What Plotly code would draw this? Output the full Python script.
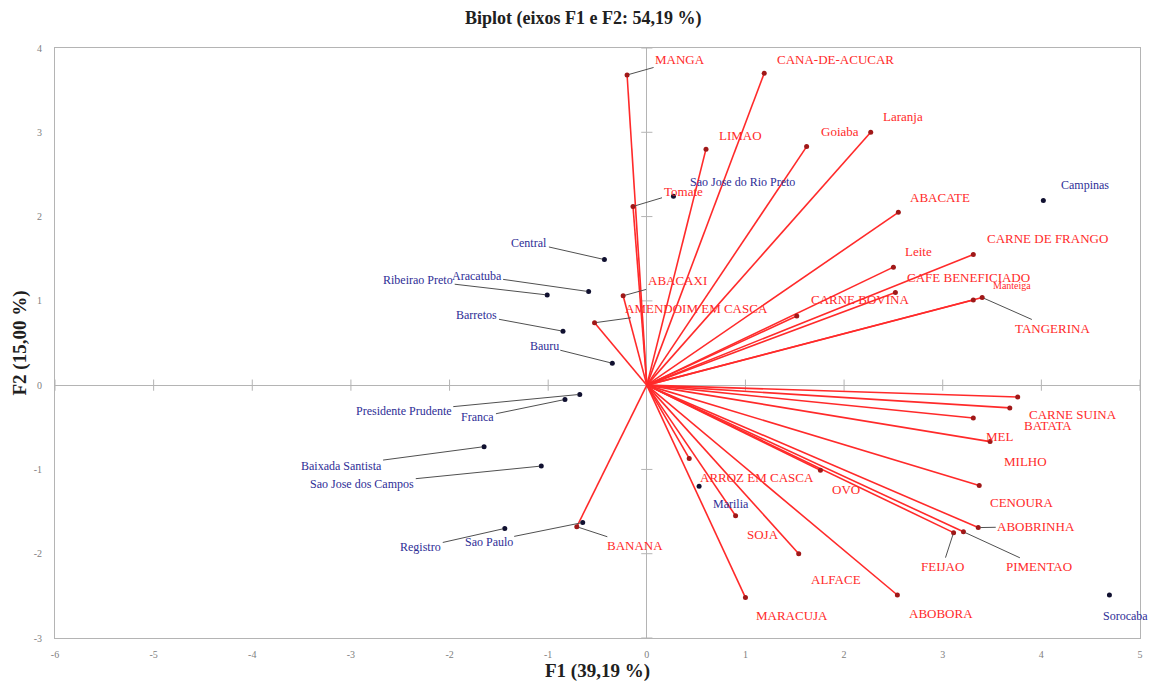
import plotly.graph_objects as go

# ---------------- data ----------------
var_names = ["MANGA", "CANA-DE-ACUCAR", "LIMAO", "Goiaba", "Laranja", "Tomate", "ABACATE",
             "CARNE DE FRANGO", "Leite", "CAFE BENEFICIADO", "CARNE BOVINA", "Manteiga",
             "TANGERINA", "ABACAXI", "AMENDOIM EM CASCA", "BANANA", "CARNE SUINA", "BATATA",
             "MEL", "MILHO", "CENOURA", "ABOBRINHA", "FEIJAO", "PIMENTAO", "ABOBORA",
             "ALFACE", "MARACUJA", "SOJA", "ARROZ EM CASCA", "OVO"]
var_f1 = [-0.20, 1.19, 0.60, 1.62, 2.27, -0.14, 2.55, 3.31, 2.50, 2.52, 1.52, 3.31,
          3.40, -0.24, -0.53, -0.71, 3.76, 3.68, 3.31, 3.48, 3.37, 3.36, 3.11, 3.21,
          2.54, 1.54, 1.00, 0.90, 0.43, 1.76]
var_f2 = [3.68, 3.70, 2.80, 2.83, 3.00, 2.12, 2.05, 1.55, 1.40, 1.10, 0.82, 1.01,
          1.04, 1.06, 0.74, -1.68, -0.14, -0.27, -0.39, -0.67, -1.19, -1.69, -1.75, -1.74,
          -2.49, -2.00, -2.52, -1.55, -0.87, -1.01]

obs_names = ["Campinas", "Sao Jose do Rio Preto", "Central", "Aracatuba", "Ribeirao Preto",
             "Barretos", "Bauru", "Presidente Prudente", "Franca", "Baixada Santista",
             "Sao Jose dos Campos", "Registro", "Sao Paulo", "Marilia", "Sorocaba"]
obs_f1 = [4.02, 0.27, -0.43, -0.59, -1.01, -0.85, -0.35, -0.68, -0.83, -1.65, -1.07,
          -1.44, -0.65, 0.53, 4.69]
obs_f2 = [2.19, 2.24, 1.49, 1.11, 1.07, 0.64, 0.26, -0.11, -0.17, -0.73, -0.96,
          -1.70, -1.63, -1.20, -2.49]

x_ticks = [-6, -5, -4, -3, -2, -1, 0, 1, 2, 3, 4, 5]
x_tick_labels = ["-6", "-5", "-4", "-3", "-2", "-1", "0", "1", "2", "3", "4", "5"]
y_ticks = [-3, -2, -1, 0, 1, 2, 3, 4]
y_tick_labels = ["-3", "-2", "-1", "0", "1", "2", "3", "4"]

# ---------------- label placement (pixel offsets, leader flag) ----------------
var_label_pos = {
    "MANGA": (53, -15, True), "CANA-DE-ACUCAR": (71, -14, False), "LIMAO": (34, -14, False),
    "Goiaba": (33, -15, False), "Laranja": (32, -16, False), "Tomate": (50, -15, True),
    "ABACATE": (42, -15, False), "CARNE DE FRANGO": (74, -16, False), "Leite": (25, -16, False),
    "CAFE BENEFICIADO": (73, -15, False), "CARNE BOVINA": (63, -17, False),
    "Manteiga": (39, -15, False), "TANGERINA": (70, 31, True), "ABACAXI": (54, -15, True),
    "AMENDOIM EM CASCA": (102, -14, True), "BANANA": (58, 19, True),
    "CARNE SUINA": (55, 18, False), "BATATA": (38, 18, False), "MEL": (27, 18, False),
    "MILHO": (35, 20, False), "CENOURA": (42, 17, False), "ABOBRINHA": (58, -1, True),
    "FEIJAO": (-11, 34, True), "PIMENTAO": (76, 35, True), "ABOBORA": (44, 18, False),
    "ALFACE": (37, 26, False), "MARACUJA": (47, 18, False), "SOJA": (27, 19, False),
    "ARROZ EM CASCA": (68, 19, False), "OVO": (26, 19, False),
}
obs_label_pos = {
    "Campinas": (42, -16, False), "Sao Jose do Rio Preto": (69, -14, False),
    "Central": (-75, -17, True), "Aracatuba": (-112, -16, True),
    "Ribeirao Preto": (-129, -15, True), "Barretos": (-86, -16, True),
    "Bauru": (-68, -17, True), "Presidente Prudente": (-176, 17, True),
    "Franca": (-87, 18, True), "Baixada Santista": (-143, 19, True),
    "Sao Jose dos Campos": (-179, 18, True), "Registro": (-84, 19, True),
    "Sao Paulo": (-94, 19, True), "Marilia": (32, 18, False), "Sorocaba": (16, 21, False),
}

FONT = "Liberation Serif"
RED = "#FF2A2A"
BLUE = "#2E2E96"
LEADER = "#505050"
AXIS_GRAY = "#B4B4B4"

fig = go.Figure()

# tick marks on the zero axes
fig.add_trace(go.Scatter(x=[t for t in x_ticks if t != 0], y=[0] * (len(x_ticks) - 1),
                         mode="markers", hoverinfo="skip", showlegend=False,
                         marker=dict(symbol="line-ns-open", size=8, color=AXIS_GRAY,
                                     line=dict(width=1, color=AXIS_GRAY))))
fig.add_trace(go.Scatter(x=[0] * (len(y_ticks) - 1), y=[t for t in y_ticks if t != 0],
                         mode="markers", hoverinfo="skip", showlegend=False,
                         marker=dict(symbol="line-ew-open", size=8, color=AXIS_GRAY,
                                     line=dict(width=1, color=AXIS_GRAY))))

# vectors
for name, a, b in zip(var_names, var_f1, var_f2):
    fig.add_trace(go.Scatter(x=[0, a], y=[0, b], mode="lines", showlegend=False,
                             hoverinfo="skip", line=dict(color=RED, width=1.6)))
fig.add_trace(go.Scatter(x=var_f1, y=var_f2, mode="markers", showlegend=False,
                         text=var_names, hoverinfo="text",
                         marker=dict(size=5, color="#A01818")))

# observations
fig.add_trace(go.Scatter(x=obs_f1, y=obs_f2, mode="markers", showlegend=False,
                         text=obs_names, hoverinfo="text",
                         marker=dict(size=5, color="#101030")))

annotations = []
for name, a, b in zip(var_names, var_f1, var_f2):
    ax, ay, lead = var_label_pos[name]
    annotations.append(dict(x=a, y=b, xref="x", yref="y", text=name, showarrow=True,
                            ax=ax, ay=ay, arrowhead=0, arrowwidth=1, standoff=2,
                            arrowcolor=LEADER if lead else "rgba(0,0,0,0)",
                            font=dict(family=FONT, size=10 if name == "Manteiga" else 13,
                                      color=RED)))
for name, a, b in zip(obs_names, obs_f1, obs_f2):
    ax, ay, lead = obs_label_pos[name]
    annotations.append(dict(x=a, y=b, xref="x", yref="y", text=name, showarrow=True,
                            ax=ax, ay=ay, arrowhead=0, arrowwidth=1, standoff=2,
                            arrowcolor=LEADER if lead else "rgba(0,0,0,0)",
                            font=dict(family=FONT, size=12, color=BLUE)))

# page body has an 8px margin, so the figure is 16px smaller than the window
fig.update_layout(
    width=1146, height=674,
    margin=dict(l=47, r=14, t=40, b=44, autoexpand=False),
    paper_bgcolor="white", plot_bgcolor="white",
    font=dict(family=FONT),
    title=dict(text="<b>Biplot (eixos F1 e F2: 54,19 %)</b>", x=0.502, xanchor="center",
               y=0.986, yanchor="middle", font=dict(family=FONT, size=18, color="#202020")),
    annotations=annotations,
    hovermode="closest",
)
fig.update_xaxes(range=[-6, 5], tickvals=x_ticks, ticktext=x_tick_labels, showgrid=False,
                 zeroline=True, zerolinecolor=AXIS_GRAY, zerolinewidth=1, showline=True,
                 mirror=True, linecolor=AXIS_GRAY, linewidth=1, ticks="", ticklabelstandoff=7,
                 automargin=False,
                 tickfont=dict(family=FONT, size=10, color="#808080"),
                 title=dict(text="<b>F1 (39,19 %)</b>", standoff=4,
                            font=dict(family=FONT, size=19, color="#202020")))
fig.update_yaxes(range=[-3, 4], tickvals=y_ticks, ticktext=y_tick_labels, showgrid=False,
                 zeroline=True, zerolinecolor=AXIS_GRAY, zerolinewidth=1, showline=True,
                 mirror=True, linecolor=AXIS_GRAY, linewidth=1, ticks="", ticklabelstandoff=10,
                 automargin=False,
                 tickfont=dict(family=FONT, size=10, color="#808080"),
                 title=dict(text="<b>F2 (15,00 %)</b>", standoff=2,
                            font=dict(family=FONT, size=19, color="#202020")))

fig.write_html("out.html")
